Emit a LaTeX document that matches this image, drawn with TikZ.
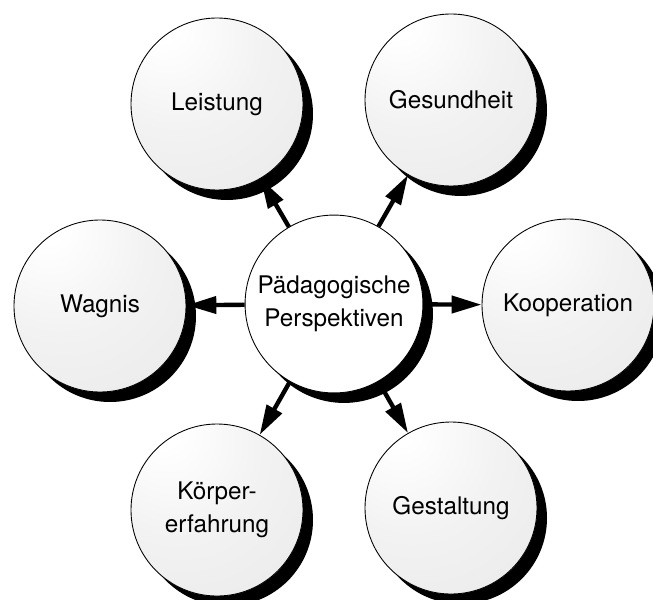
\documentclass[tikz,border=0pt]{standalone}
\usepackage{fontspec}
\setmainfont{TeX Gyre Heros}
\usetikzlibrary{arrows.meta,shadows}
\pgfdeclareradialshading{sphereGray}{\pgfpoint{-17bp}{25bp}}{color(0bp)=(white); color(5bp)=(white); color(25bp)=(gray!10); color(50bp)=(gray!17); color(80bp)=(gray!30)}
\begin{document}
\begin{tikzpicture}
        [nodeMain/.style={circle,draw,minimum size=3.44cm, line width=0.5pt, fill=white, align=center,
            font=\fontsize{13.8}{19}\selectfont,
            drop shadow={shadow xshift=0.2cm, shadow yshift=-0.2cm, fill=black, opacity=1}},
        nodeBall/.style={nodeMain, shading=sphereGray},
        arrowOut/.style={line width=2.5pt, -{Triangle[length=17pt,width=9.6pt]}}]
        \useasboundingbox (-6.68,-5.9) rectangle (6.38,6.08);
        \node[nodeMain] (P) at (0,0) {Pädagogische\\Perspektiven};
        \node[nodeBall] (L) at (-2.34,4.0) {Leistung};
        \node[nodeBall] (G) at (2.34,4.08) {Gesundheit};
        \node[nodeBall] (W) at (-4.68,-0.04) {Wagnis};
        \node[nodeBall] (K) at (4.68,-0.02) {Kooperation};
        \node[nodeBall] (E) at (-2.34,-4.12) {Körper-\\erfahrung};
        \node[nodeBall] (S) at (2.34,-4.08) {Gestaltung};

        \draw[arrowOut] (P) -- (L);
        \draw[arrowOut] (P) -- (G);
        \draw[arrowOut] (P) -- (W);
        \draw[arrowOut] (P) -- (K);
        \draw[arrowOut] (P) -- (E);
        \draw[arrowOut] (P) -- (S);
    \end{tikzpicture}
\end{document}
